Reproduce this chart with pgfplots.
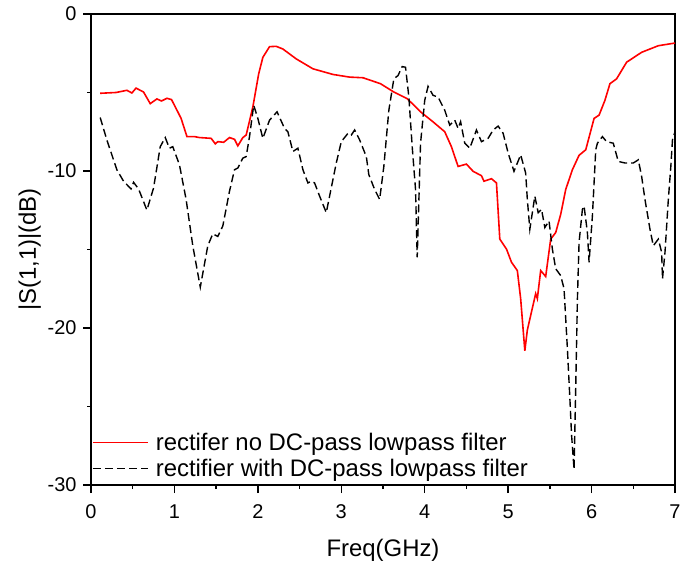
\documentclass[border=0pt]{standalone}
\usepackage{fontspec}
\setmainfont{Liberation Sans}
\usepackage{pgfplots}
\pgfplotsset{compat=1.18}
\usetikzlibrary{calc}
\begin{document}
\begin{tikzpicture}
\begin{axis}[
  scale only axis,
  width=584bp, height=471bp,
  xmin=0, xmax=7, ymin=-30, ymax=0,
  xtick={0,1,...,7}, ytick={-30,-20,-10,0},
  minor x tick num=1, minor y tick num=1,
  tick align=outside,
  xtick pos=left, ytick pos=left,
  major tick length=8bp, minor tick length=4bp,
  axis line style={line width=1.6bp},
  every tick/.style={line width=1.4bp, black},
  /pgf/number format/assume math mode=true,
  tick label style={font=\fontsize{20}{22}\selectfont},
  label style={font=\fontsize{24}{26}\selectfont},
  xlabel={Freq(GHz)},
  ylabel={|S(1,1)|(dB)},
  xticklabel style={yshift=-8bp},
  yticklabel style={xshift=-3bp},
  xlabel style={yshift=-14bp},
  legend style={at={(0,0)}, anchor=south west, draw=none, fill=none,
    font=\fontsize{24}{26}\selectfont, inner xsep=1bp, inner ysep=5bp,
    row sep=3bp, /tikz/every even column/.append style={column sep=0bp}},
  legend cell align=left,
  legend image code/.code={\draw[#1] (0bp,0bp) -- (55bp,0bp);},
]
\addplot[red, line width=1.6bp] coordinates {
(0.11,-5.05) (0.3,-5.0) (0.43,-4.86) (0.49,-5.03) (0.54,-4.72) (0.63,-4.97) (0.71,-5.71) (0.79,-5.41) (0.845,-5.54) (0.91,-5.37) (0.965,-5.45) (1.04,-6.23) (1.08,-6.65) (1.15,-7.81) (1.24,-7.81) (1.30,-7.87) (1.44,-7.92) (1.49,-8.27) (1.52,-8.13) (1.59,-8.17) (1.66,-7.87) (1.72,-7.98) (1.76,-8.4) (1.82,-7.87) (1.86,-7.71) (1.94,-5.92) (2.01,-3.81) (2.06,-2.76) (2.14,-2.08) (2.22,-2.06) (2.30,-2.23) (2.46,-2.86) (2.66,-3.49) (2.90,-3.85) (3.10,-4.02) (3.26,-4.06) (3.47,-4.44) (3.63,-4.97) (3.79,-5.39) (3.95,-6.23) (4.10,-6.87) (4.24,-7.5) (4.32,-8.45) (4.40,-9.71) (4.50,-9.56) (4.58,-10.02) (4.68,-10.3) (4.71,-10.65) (4.80,-10.49) (4.86,-10.76) (4.90,-14.34) (4.98,-14.97) (5.04,-15.81) (5.11,-16.34) (5.15,-18.13) (5.20,-21.45) (5.23,-20.13) (5.33,-17.81) (5.35,-18.13) (5.39,-16.34) (5.45,-16.72) (5.51,-14.34) (5.57,-13.92) (5.63,-12.76) (5.69,-11.18) (5.77,-9.92) (5.85,-9.0) (5.93,-8.65) (6.03,-6.65) (6.09,-6.44) (6.16,-5.5) (6.22,-4.44) (6.30,-4.13) (6.42,-3.07) (6.60,-2.44) (6.80,-2.02) (7.0,-1.85)
};
\addlegendentry{\hspace{5bp}rectifer no DC-pass lowpass filter}
\addplot[black, line width=1.4bp, dash pattern=on 8bp off 4bp] coordinates {
(0.11,-6.59) (0.19,-8.02) (0.31,-9.92) (0.39,-10.65) (0.48,-11.14) (0.51,-10.72) (0.57,-11.14) (0.67,-12.49) (0.75,-11.08) (0.83,-8.45) (0.89,-7.87) (0.94,-8.55) (0.98,-8.45) (1.06,-9.6) (1.14,-11.81) (1.22,-14.76) (1.31,-17.4) (1.40,-14.76) (1.46,-14.0) (1.52,-14.17) (1.58,-13.5) (1.66,-11.29) (1.72,-9.92) (1.76,-9.81) (1.82,-9.18) (1.86,-9.08) (1.90,-7.81) (1.95,-5.81) (2.00,-6.65) (2.06,-7.92) (2.14,-6.76) (2.23,-6.23) (2.32,-7.29) (2.36,-7.5) (2.42,-8.76) (2.48,-8.55) (2.54,-9.92) (2.60,-10.76) (2.64,-10.65) (2.68,-10.76) (2.74,-11.6) (2.82,-12.65) (2.94,-9.49) (3.00,-8.13) (3.08,-7.6) (3.12,-7.71) (3.16,-7.39) (3.22,-8.02) (3.30,-9.08) (3.33,-10.23) (3.40,-11.18) (3.46,-11.81) (3.51,-9.71) (3.57,-6.13) (3.63,-4.13) (3.68,-3.92) (3.73,-3.35) (3.77,-3.39) (3.81,-5.29) (3.85,-8.45) (3.89,-11.18) (3.91,-15.5) (3.95,-8.23) (4.00,-5.5) (4.04,-4.61) (4.10,-5.18) (4.16,-5.29) (4.24,-6.13) (4.30,-7.08) (4.36,-6.76) (4.40,-7.29) (4.43,-6.86) (4.48,-8.23) (4.54,-8.55) (4.62,-7.39) (4.68,-8.13) (4.76,-7.92) (4.82,-7.39) (4.88,-7.14) (4.94,-7.6) (5.00,-8.86) (5.07,-10.02) (5.15,-8.97) (5.21,-10.13) (5.23,-11.81) (5.26,-13.71) (5.32,-11.6) (5.36,-12.65) (5.40,-12.44) (5.44,-13.6) (5.49,-13.18) (5.53,-14.97) (5.57,-16.23) (5.63,-16.66) (5.67,-17.5) (5.71,-21.3) (5.74,-24.5) (5.76,-26.8) (5.79,-29.0) (5.81,-23.8) (5.83,-18.2) (5.85,-14.55) (5.89,-12.44) (5.91,-12.23) (5.95,-13.92) (5.97,-15.81) (6.01,-12.86) (6.05,-8.65) (6.07,-8.23) (6.13,-7.81) (6.18,-8.13) (6.26,-8.23) (6.32,-9.39) (6.40,-9.49) (6.50,-9.49) (6.56,-9.29) (6.60,-10.34) (6.64,-11.81) (6.70,-13.71) (6.74,-14.76) (6.80,-14.34) (6.84,-15.18) (6.85,-16.87) (6.88,-15.18) (6.92,-11.81) (6.95,-9.71) (6.97,-8.0) (7.0,-7.5)
};
\addlegendentry{\hspace{5bp}rectifier with DC-pass lowpass filter}
\end{axis}
\pgfresetboundingbox
\path ($(current axis.south west)+(-91bp,-79bp)$) rectangle ($(current axis.north east)+(22bp,14bp)$);
\end{tikzpicture}
\end{document}
